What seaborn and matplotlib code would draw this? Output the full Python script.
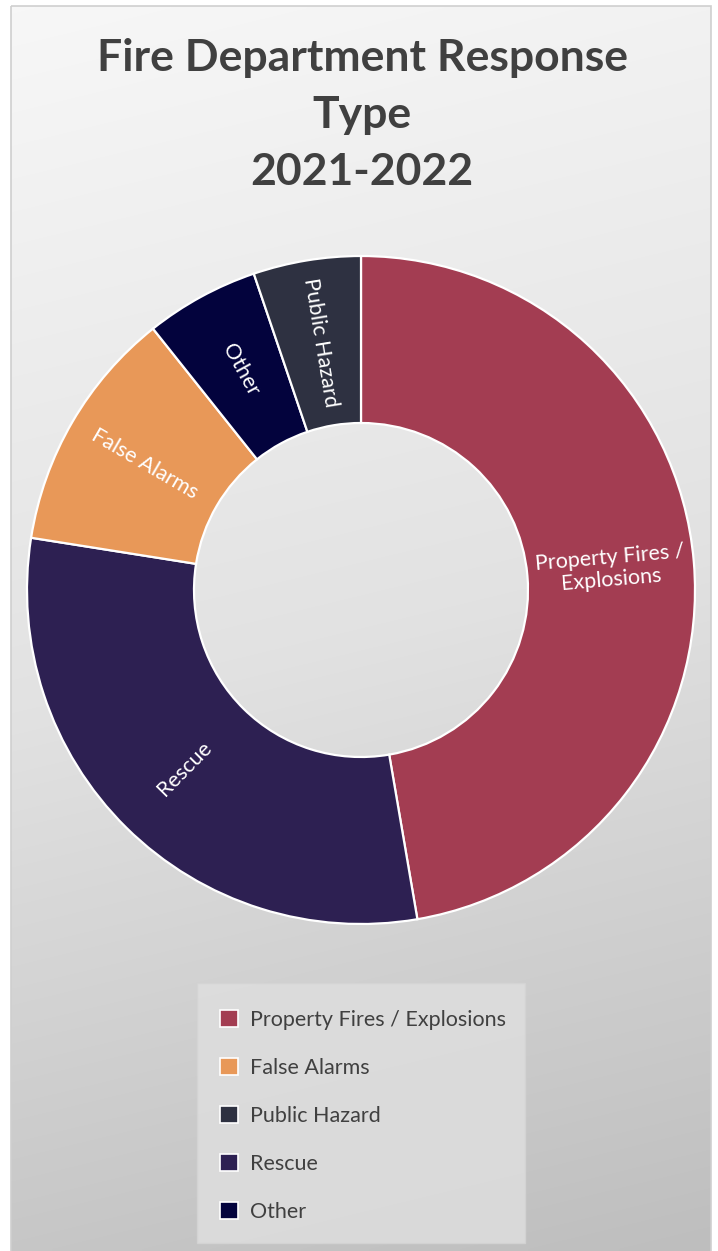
import numpy as np
import matplotlib
matplotlib.use("Agg")
import matplotlib.pyplot as plt
from matplotlib.colors import LinearSegmentedColormap
from matplotlib.patches import Patch, Rectangle
import seaborn as sns

# Response types in the order they run clockwise round the ring
categories = ["Property Fires / Explosions", "Rescue", "False Alarms", "Other", "Public Hazard"]
shares = [47.3, 30.2, 11.8, 5.5, 5.2]
slice_labels = ["Property Fires /\nExplosions", "Rescue", "False Alarms", "Other", "Public Hazard"]
legend_order = ["Property Fires / Explosions", "False Alarms", "Public Hazard", "Rescue", "Other"]
palette = {
    "Property Fires / Explosions": "#A33D52",
    "Rescue": "#2D2052",
    "False Alarms": "#E89858",
    "Other": "#03033D",
    "Public Hazard": "#2E3141",
}

sns.set_theme(style="white")
plt.rcParams["font.family"] = ["Lato", "DejaVu Sans"]

W, H = 718, 1251
fig = plt.figure(figsize=(W / 100, H / 100), dpi=100)
fig.patch.set_facecolor("white")

# Backdrop: soft light-to-grey gradient inside a thin frame
bg = fig.add_axes([0, 0, 1, 1])
bg.set_xlim(0, W)
bg.set_ylim(H, 0)
bg.set_axis_off()
yy, xx = np.mgrid[0:1:300j, 0:1:200j]
t = 0.88 * yy + 0.12 * xx
cmap = LinearSegmentedColormap.from_list("backdrop", ["#F7F7F7", "#E2E2E2", "#BEBEBE"])
bg.imshow(t, cmap=cmap, extent=[11, 711, H, 6], aspect="auto", interpolation="bilinear", zorder=0)
bg.add_patch(Rectangle((11, 6), 700, H, fill=False, edgecolor="#CFCFCF", lw=1.2, zorder=1))

# Legend panel
bg.add_patch(Rectangle((197, 983), 328, 260, facecolor="#DEDEDE", edgecolor="#D4D4D4",
                       lw=1.0, alpha=0.85, zorder=2))

fig.text(362 / W, 1 - 38 / H, "Fire Department Response\nType\n2021-2022",
         ha="center", va="top", fontsize=32, fontweight="bold", color="#404040",
         linespacing=1.52)

# Donut
ax = fig.add_axes([27 / W, (H - 924) / H, 668 / W, 668 / H])
colors = [palette[c] for c in categories]
wedges, _ = ax.pie(shares, colors=colors, startangle=90, counterclock=False,
                   wedgeprops=dict(width=0.5, edgecolor="white", linewidth=1.6))
ax.set_xlim(-1, 1)
ax.set_ylim(-1, 1)
ax.set_aspect("equal")
ax.set_axis_off()

for w, lab in zip(wedges, slice_labels):
    mid = 0.5 * (w.theta1 + w.theta2)
    r = 0.75
    x, y = r * np.cos(np.radians(mid)), r * np.sin(np.radians(mid))
    rot = mid
    while rot > 90:
        rot -= 180
    while rot < -90:
        rot += 180
    ax.text(x, y, lab, ha="center", va="center", rotation=rot, rotation_mode="anchor",
            color="white", fontsize=15.5, linespacing=1.15)

handles = [Patch(facecolor=palette[c], edgecolor="white", linewidth=1.2) for c in legend_order]
fig.legend(handles, legend_order, loc="upper left",
           bbox_to_anchor=(220 / W, 1 - 1010 / H), frameon=False,
           fontsize=15.5, labelcolor="#404040", handlelength=0.85, handleheight=0.85,
           handletextpad=0.55, labelspacing=1.3, borderpad=0, borderaxespad=0)

fig.savefig("out.png", dpi=100, facecolor="white")
